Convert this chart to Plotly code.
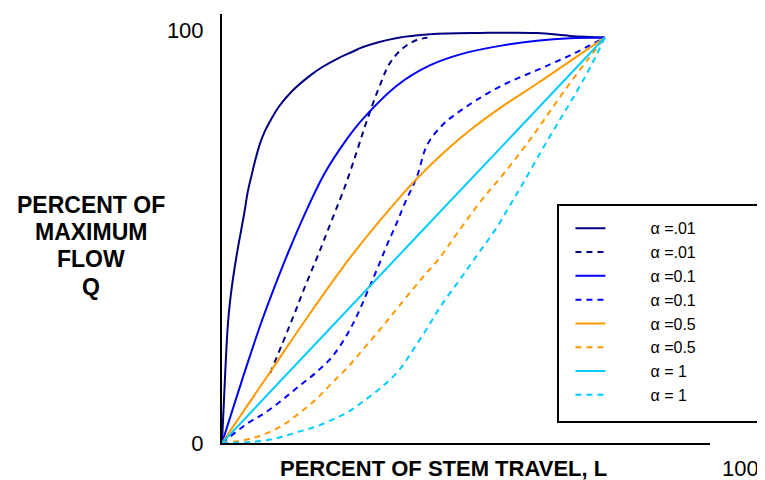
import plotly.graph_objects as go

# Percent of stem travel (L) and percent of maximum flow (Q)
L_a001_solid = [0, 0.6, 1.2, 1.9, 2.9, 4.3, 5.0, 5.8, 6.4, 7.3, 8.3, 9.3, 11.0, 13.5, 16.8, 19.3, 22.6,
                25.1, 27.2, 33.8, 40.2, 49.8, 60.8, 67.2, 73.9]
Q_a001_solid = [0, 16.5, 29.8, 37.8, 46.0, 55.7, 61.0, 65.3, 68.4, 72.4, 75.6, 78.0, 81.5, 85.2, 88.8, 91.0, 93.3,
                94.7, 95.9, 98.1, 99.0, 99.3, 99.3, 98.6, 98.2]

L_a001_dash = [9.3, 13.5, 16.0, 18.7, 21.2, 23.7, 26.1, 28.0, 30.5, 32.4, 34.9, 37.6, 40.5]
Q_a001_dash = [16.9, 29.8, 37.8, 46.0, 54.0, 62.0, 70.9, 78.2, 86.7, 92.0, 95.6, 97.6, 98.3]

L_a01_solid = [0, 5.0, 7.7, 10.2, 12.9, 16.0, 19.9, 24.1, 27.2, 33.8, 40.2, 46.5, 54.2, 60.8, 67.2, 73.9]
Q_a01_solid = [0, 19.6, 29.6, 38.0, 46.5, 55.5, 65.5, 73.6, 78.5, 86.6, 91.5, 94.3, 96.3, 97.4, 98.0, 98.2]

L_a01_dash = [0, 5.0, 8.3, 11.6, 14.7, 18.0, 21.2, 24.3, 26.3, 28.2, 30.1, 32.0, 33.8, 35.3, 37.6,
              39.6, 42.7, 45.4, 48.8, 54.2, 60.8, 67.2, 73.9]
Q_a01_dash = [0, 4.8, 7.3, 10.4, 13.6, 16.9, 20.8, 26.6, 31.5, 37.0, 42.6, 48.4, 53.5, 58.1, 64.4,
              72.2, 77.2, 79.9, 82.8, 86.7, 90.3, 93.9, 98.2]

L_a05_solid = [0, 9.3, 16.0, 25.1, 34.4, 37.6, 43.4, 47.9, 54.2, 60.8, 67.2, 73.9]
Q_a05_solid = [0, 17.2, 29.6, 45.5, 59.6, 64.0, 71.0, 75.8, 81.6, 87.0, 92.5, 98.2]

L_a05_dash = [0, 5.0, 8.3, 11.6, 14.7, 18.0, 21.2, 24.3, 27.6, 30.9, 34.0, 38.8, 42.1, 45.4,
              50.4, 53.7, 57.5, 60.8, 63.9, 67.2, 70.5, 73.9]
Q_a05_dash = [0, 0.9, 2.2, 4.2, 7.0, 10.4, 14.5, 18.4, 23.2, 28.1, 32.9, 40.2, 45.0, 50.8,
              59.3, 64.2, 70.2, 75.8, 81.4, 87.2, 92.7, 98.2]

L_a1_solid = [0, 36.9, 73.9]
Q_a1_solid = [0, 49.1, 98.2]

L_a1_dash = [0, 5.0, 8.3, 11.6, 14.7, 18.0, 21.2, 24.3, 27.6, 30.9, 34.4, 36.9, 39.6, 42.1, 45.4,
             47.9, 50.4, 53.1, 55.6, 58.1, 61.4, 64.7, 67.8, 71.0, 73.9]
Q_a1_dash = [0, 0.2, 0.6, 1.5, 2.7, 3.9, 5.6, 7.5, 10.4, 13.6, 18.0, 22.6, 27.8, 32.9, 38.7,
             43.1, 47.5, 52.3, 57.6, 62.9, 70.2, 77.2, 83.7, 90.8, 98.2]

series_names = ["α =.01", "α =.01", "α =0.1", "α =0.1", "α =0.5", "α =0.5", "α = 1", "α = 1"]
y_tick_vals = [0, 100]
y_tick_text = ["0", "100"]
x_end_label = "100"
x_title = "PERCENT OF STEM TRAVEL, L"
y_title_lines = ["PERCENT OF", "MAXIMUM", "FLOW", "Q"]

NAVY = "#000080"
BLUE = "#0000FF"
ORANGE = "#FF9900"
CYAN = "#00CCFF"
DASH = "6px,5px"

series = [
    (L_a001_solid, Q_a001_solid, NAVY, "solid"),
    (L_a001_dash, Q_a001_dash, NAVY, DASH),
    (L_a01_solid, Q_a01_solid, BLUE, "solid"),
    (L_a01_dash, Q_a01_dash, BLUE, DASH),
    (L_a05_solid, Q_a05_solid, ORANGE, "solid"),
    (L_a05_dash, Q_a05_dash, ORANGE, DASH),
    (L_a1_solid, Q_a1_solid, CYAN, "solid"),
    (L_a1_dash, Q_a1_dash, CYAN, DASH),
]

fig = go.Figure()
pad = "\u00a0" * 9
for (xs, ys, col, dash), name in zip(series, series_names):
    fig.add_trace(go.Scatter(
        x=xs, y=ys, mode="lines", name=pad + name,
        line=dict(color=col, width=2, dash=dash, shape="spline", smoothing=1.0),
    ))

FONT = "Liberation Sans, Arial, sans-serif"
TITLE_FONT = dict(size=23, family=FONT, color="black", weight="bold")

# the page body adds an 8px offset; figure is sized so the plot sits where the reference has it
annotations = [
    dict(text=x_title, xref="paper", yref="paper", x=0.4529, y=-0.0583,
         xanchor="center", yanchor="middle", showarrow=False,
         font=dict(size=22, family=FONT, color="black", weight="bold")),
    dict(text=x_end_label, xref="paper", yref="paper", x=1.0615, y=-0.0583,
         xanchor="center", yanchor="middle", showarrow=False,
         font=dict(size=22, family=FONT, color="black")),
]
for line, yp in zip(y_title_lines, [0.5548, 0.4918, 0.4289, 0.3636]):
    annotations.append(dict(text=line, xref="paper", yref="paper", x=-0.2684, y=yp,
                            xanchor="center", yanchor="middle", showarrow=False,
                            font=TITLE_FONT))

fig.update_layout(
    width=757, height=472,
    margin=dict(l=214, r=55, t=6, b=37),
    paper_bgcolor="white", plot_bgcolor="white",
    font=dict(family=FONT, color="black"),
    showlegend=True,
    legend=dict(
        x=0.714, y=0.540, xanchor="left", yanchor="top",
        bgcolor="rgba(0,0,0,0)", borderwidth=0,
        font=dict(size=16, family=FONT), tracegroupgap=0,
    ),
    xaxis=dict(
        range=[0, 94.2], showgrid=False, zeroline=False,
        showline=True, linecolor="black", linewidth=2,
        showticklabels=False, ticks="",
    ),
    yaxis=dict(
        range=[0, 103.9], showgrid=False, zeroline=False,
        showline=True, linecolor="black", linewidth=2,
        tickvals=y_tick_vals, ticktext=y_tick_text,
        ticks="outside", ticklen=12, tickcolor="rgba(0,0,0,0)",
        tickfont=dict(size=22, family=FONT),
    ),
    shapes=[dict(
        type="rect", xref="paper", yref="paper",
        x0=0.6885, x1=1.1066, y0=0.049, y1=0.5548,
        line=dict(color="black", width=2), fillcolor="rgba(0,0,0,0)",
    )],
    annotations=annotations,
)

fig.write_html("out.html")
